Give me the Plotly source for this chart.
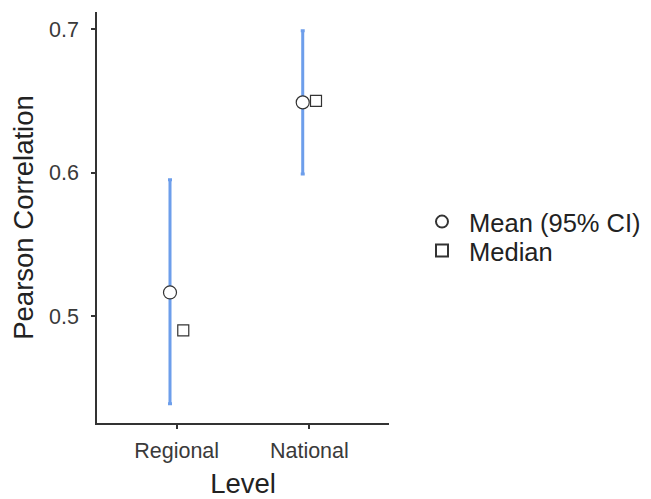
import plotly.graph_objects as go

levels = ["Regional", "National"]
mean_vals = [0.5165, 0.649]
ci_low = [0.439, 0.599]
ci_high = [0.595, 0.699]
median_vals = [0.490, 0.650]

xpos = [1, 2]
dodge = 0.05
font = "Liberation Sans, Arial, Helvetica, sans-serif"
ink = "#333333"
nb = "\u00a0"

fig = go.Figure()
fig.add_trace(go.Scatter(
    x=[p - dodge for p in xpos], y=mean_vals, mode="markers",
    name=nb + "Mean (95% CI)", legend="legend",
    marker=dict(symbol="circle", size=13, color="white", line=dict(color=ink, width=1.2)),
    error_y=dict(type="data", symmetric=False,
                 array=[h - m for h, m in zip(ci_high, mean_vals)],
                 arrayminus=[m - l for m, l in zip(mean_vals, ci_low)],
                 color="#6d9eeb", thickness=3, width=2),
))
fig.add_trace(go.Scatter(
    x=[p + dodge for p in xpos], y=median_vals, mode="markers",
    name=nb + "Median", legend="legend2",
    marker=dict(symbol="square", size=11, color="white", line=dict(color=ink, width=1.2)),
))

leg_common = dict(xanchor="left", yanchor="middle", bgcolor="rgba(0,0,0,0)",
                  font=dict(size=25.5, color="#222"), itemsizing="constant")

fig.update_layout(
    width=643, height=491,
    margin=dict(l=89, r=262, t=4, b=76, autoexpand=False),
    paper_bgcolor="white", plot_bgcolor="white",
    font=dict(family=font, color=ink),
    xaxis=dict(range=[0.4, 2.6], tickvals=xpos, ticktext=levels, automargin=False,
               showgrid=False, zeroline=False, showline=True, linecolor=ink, linewidth=1.5,
               ticks="outside", ticklen=4, tickwidth=1.5, tickcolor=ink, ticklabelstandoff=3,
               tickfont=dict(size=21.5, color="#3a3a3a"),
               title=dict(text="Level", font=dict(size=27.5, color="#222"), standoff=14)),
    yaxis=dict(range=[0.4255, 0.712], tickvals=[0.5, 0.6, 0.7], ticktext=["0.5", "0.6", "0.7"],
               automargin=False,
               showgrid=False, zeroline=False, showline=True, linecolor=ink, linewidth=1.5,
               ticks="outside", ticklen=4, tickwidth=1.5, tickcolor=ink, ticklabelstandoff=8,
               tickfont=dict(size=21.5, color="#3a3a3a"),
               title=dict(text="Pearson Correlation", font=dict(size=27.5, color="#222"), standoff=8)),
    legend=dict(x=1.113, y=0.489, **leg_common),
    legend2=dict(x=1.113, y=0.4185, **leg_common),
    showlegend=True,
)

fig.write_html("out.html")
